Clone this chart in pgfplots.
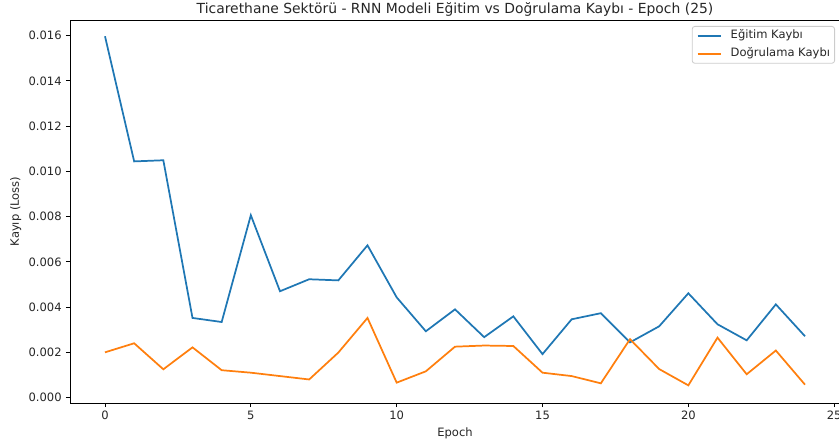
\documentclass[border=0pt]{standalone}
\usepackage{pgfplots}
\pgfplotsset{compat=1.18}
\usepackage{fontspec}
\setmainfont{DejaVu Sans}
\definecolor{tabblue}{HTML}{1F77B4}
\definecolor{taborange}{HTML}{FF7F0E}
\definecolor{txt}{HTML}{262626}

\begin{document}
\begin{tikzpicture}
\path[use as bounding box] (-50.4bp,-30.96bp) rectangle (553.68bp,290.16bp);
\begin{axis}[
    at={(0,0)}, anchor=south west,
    scale only axis, width=554.4bp, height=275.76bp,
    xmin=-1.2, xmax=25.2, ymin=-0.00024, ymax=0.01669,
    xtick={0,5,10,15,20,25},
    ytick={0,0.002,0.004,0.006,0.008,0.010,0.012,0.014,0.016},
    scaled y ticks=false,
    yticklabel style={/pgf/number format/.cd, fixed, fixed zerofill, precision=3},
    /pgf/number format/assume math mode=true,
    tick label style={font=\fontsize{8.3bp}{10bp}\selectfont, inner sep=0pt, text=txt},
    xticklabel shift=2.9bp, yticklabel shift=2.9bp,
    tick align=outside, xtick pos=bottom, ytick pos=left,
    major tick length=2.9bp,
    tick style={line width=0.66bp, black},
    axis line style={line width=0.66bp, black},
    every axis title shift=0pt,
    title={Ticarethane Sektörü - RNN Modeli Eğitim vs Doğrulama Kaybı - Epoch (25)},
    title style={font=\fontsize{10bp}{12bp}\selectfont, at={(axis description cs:0.5,1)}, anchor=base, inner sep=0pt, yshift=4.8bp, text=txt},
    xlabel={Epoch},
    xlabel style={font=\fontsize{8.3bp}{10bp}\selectfont, at={(axis description cs:0.5,0)}, anchor=base, inner sep=0pt, yshift=-24bp, text=txt},
    ylabel={Kayıp (Loss)},
    ylabel style={font=\fontsize{8.3bp}{10bp}\selectfont, at={(axis description cs:-0.063,0.5)}, anchor=south, inner sep=0pt, text=txt},
    legend cell align=left,
    legend image code/.code={\draw[#1] (0bp,0bp) -- (16.6bp,0bp); \path (23.2bp,0bp);},
    legend style={at={(axis description cs:1,1)}, anchor=north east, xshift=-3.6bp, yshift=-4.3bp,
        draw=black!20, rounded corners=2bp, fill=white, line width=0.6bp,
        font=\fontsize{8.3bp}{10bp}\selectfont, text=txt, inner xsep=3.3bp, inner ysep=2.7bp, row sep=4.8bp,
        nodes={inner sep=0pt, text height=6.3bp, text depth=1.9bp}},
]
\addplot[tabblue, line width=1.25bp] coordinates {
(0,0.01597) (1,0.01044) (2,0.01049) (3,0.00352) (4,0.00334)
(5,0.00806) (6,0.00470) (7,0.00523) (8,0.00518) (9,0.00673)
(10,0.00443) (11,0.00293) (12,0.00390) (13,0.00267) (14,0.00359)
(15,0.00192) (16,0.00346) (17,0.00373) (18,0.00244) (19,0.00315)
(20,0.00461) (21,0.00324) (22,0.00253) (23,0.00412) (24,0.00271)
};
\addlegendentry{Eğitim Kaybı}
\addplot[taborange, line width=1.25bp] coordinates {
(0,0.00200) (1,0.00240) (2,0.00125) (3,0.00222) (4,0.00121)
(5,0.00110) (6,0.00095) (7,0.00080) (8,0.00199) (9,0.00352)
(10,0.00066) (11,0.00116) (12,0.00225) (13,0.00230) (14,0.00228)
(15,0.00110) (16,0.00095) (17,0.00063) (18,0.00258) (19,0.00126)
(20,0.00054) (21,0.00265) (22,0.00103) (23,0.00208) (24,0.00057)
};
\addlegendentry{Doğrulama Kaybı}
\end{axis}
\end{tikzpicture}
\end{document}
